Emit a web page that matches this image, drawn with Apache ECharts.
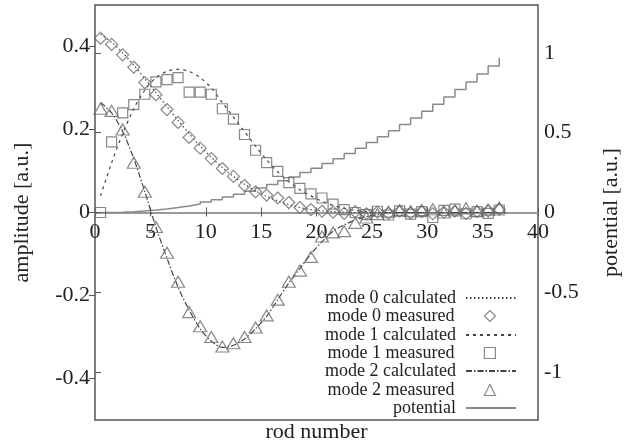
<!DOCTYPE html>
<html>
<head>
    <meta charset="utf-8">
    <title>rod modes</title>
    <script src="https://cdn.jsdelivr.net/npm/echarts@6/dist/echarts.min.js"></script>
    <style>
        html, body { margin: 0; padding: 0; background: #fff; }
    </style>
</head>
<body>
<div id="main" style="width: 629px;height:443px;"></div>
<script type="text/javascript">
    // rod centres (x)
    var rodX = [0.5, 1.5, 2.5, 3.5, 4.5, 5.5, 6.5, 7.5, 8.5, 9.5, 10.5, 11.5, 12.5, 13.5, 14.5, 15.5, 16.5, 17.5, 18.5,
        19.5, 20.5, 21.5, 22.5, 23.5, 24.5, 25.5, 26.5, 27.5, 28.5, 29.5, 30.5, 31.5, 32.5, 33.5, 34.5, 35.5, 36.5];

    var mode0Calc = [0.43, 0.41, 0.385, 0.355, 0.322, 0.289, 0.255, 0.222, 0.19, 0.16, 0.133, 0.108, 0.087, 0.068,
        0.052, 0.039, 0.028, 0.019, 0.012, 0.007, 0.004, 0.002, 0.001, 0, 0, 0, 0, 0, 0, 0, 0, 0, 0, 0, 0, 0, 0];
    var mode0Meas = [0.42, 0.405, 0.38, 0.35, 0.313, 0.284, 0.248, 0.217, 0.181, 0.155, 0.13, 0.106, 0.087, 0.065,
        0.05, 0.042, 0.035, 0.024, 0.012, 0.007, 0.003, 0.001, -0.002, 0.002, -0.003, 0.001, -0.002, 0.003, -0.001,
        0.002, -0.003, 0.001, 0.003, -0.002, 0.002, 0.004, 0.008];
    var mode1Calc = [0.04, 0.12, 0.19, 0.25, 0.295, 0.325, 0.34, 0.345, 0.34, 0.325, 0.3, 0.265, 0.23, 0.195, 0.16,
        0.127, 0.098, 0.074, 0.055, 0.04, 0.027, 0.017, 0.01, 0.005, 0.002, 0, 0, 0, 0, 0, 0, 0, 0, 0, 0, 0, 0];
    var mode1Meas = [0, 0.17, 0.24, 0.26, 0.285, 0.315, 0.32, 0.325, 0.29, 0.29, 0.285, 0.25, 0.225, 0.188, 0.15,
        0.12, 0.099, 0.072, 0.058, 0.045, 0.035, 0.02, 0.007, 0, -0.005, 0.003, -0.006, 0.004, -0.004, 0.002,
        -0.012, 0.005, 0.008, -0.003, 0.002, -0.002, 0.006];
    var mode2Calc = [0.265, 0.24, 0.195, 0.13, 0.05, -0.035, -0.11, -0.18, -0.235, -0.28, -0.31, -0.325, -0.32,
        -0.305, -0.28, -0.25, -0.21, -0.17, -0.135, -0.1, -0.07, -0.045, -0.03, -0.018, -0.01, -0.005, 0, 0, 0, 0,
        0, 0, 0, 0, 0, 0, 0];
    var mode2Meas = [0.25, 0.245, 0.2, 0.12, 0.05, -0.035, -0.097, -0.167, -0.24, -0.274, -0.3, -0.323, -0.315,
        -0.3, -0.277, -0.248, -0.21, -0.167, -0.14, -0.107, -0.058, -0.048, -0.045, -0.025, -0.012, -0.004, 0.002,
        0.005, 0.003, 0.006, 0.008, 0, 0.005, 0.01, 0.004, 0.007, 0.012];
    var potential = [0, 0.002, 0.005, 0.009, 0.015, 0.022, 0.031, 0.041, 0.053, 0.066, 0.08, 0.097, 0.114, 0.133,
        0.154, 0.176, 0.199, 0.223, 0.25, 0.278, 0.307, 0.337, 0.369, 0.403, 0.438, 0.474, 0.512, 0.551, 0.592,
        0.634, 0.678, 0.723, 0.77, 0.818, 0.867, 0.918, 0.97];

    var ampTicks = [-0.4, -0.2, 0, 0.2, 0.4];
    var potTicks = [-1, -0.5, 0, 0.5, 1];
    var rodTicks = [0, 5, 10, 15, 20, 25, 30, 35, 40];

    function pairs(ys) {
        return rodX.map(function (x, i) { return [x, ys[i]]; });
    }

    var font = 'Liberation Serif';
    var ink = '#222';
    var lineCol = '#444';
    var markCol = '#6a6a6a';
    var zeroOffset = -207.5;   // plot is 415px high, zero sits in the middle

    function calcLine(name, data, dash) {
        return {
            name: name, type: 'line', data: pairs(data), symbol: 'none', smooth: 0.3,
            lineStyle: {color: lineCol, width: 1.2, type: dash}, itemStyle: {color: lineCol}, z: 3
        };
    }

    function measured(name, data, symbol, size) {
        return {
            name: name, type: 'scatter', data: pairs(data), symbol: symbol, symbolSize: size,
            itemStyle: {color: 'rgba(255,255,255,0)', borderColor: markCol, borderWidth: 1.2}, z: 4
        };
    }

    // one legend per row, so lines and markers can get their own icon widths
    function legendRow(name, top, isLine) {
        return {
            orient: 'vertical', align: 'right', top: top,
            right: isLine ? 107 : 128,
            itemWidth: isLine ? 50 : 11, itemHeight: isLine ? 10 : 11,
            itemStyle: isLine ? {opacity: 0} :
                {color: 'rgba(255,255,255,0)', borderColor: markCol, borderWidth: 1.2},
            textStyle: {fontFamily: font, fontSize: 18, color: ink, lineHeight: 18,
                padding: [0, isLine ? 5 : 25, 0, 0]},
            selectedMode: false,
            data: [name]
        };
    }

    var myChart = echarts.init(document.getElementById('main'));
    var option = {
        animation: false,
        textStyle: {fontFamily: font, color: ink},
        grid: {
            left: 95, right: 91, top: 5, bottom: 23, outerBoundsMode: 'none',
            show: true, borderColor: '#555', borderWidth: 1.5
        },
        legend: [
            legendRow('mode 0 calculated', 284, true),
            legendRow('mode 0 measured', 302, false),
            legendRow('mode 1 calculated', 321, true),
            legendRow('mode 1 measured', 339, false),
            legendRow('mode 2 calculated', 357, true),
            legendRow('mode 2 measured', 376, false),
            legendRow('potential', 394, true)
        ],
        xAxis: [{
            type: 'value', min: 0, max: 40, position: 'bottom', offset: zeroOffset,
            axisLine: {onZero: false, lineStyle: {color: '#9a9a9a', width: 2}},
            axisTick: {inside: true, length: 5, lineStyle: {color: '#555'}, customValues: rodTicks},
            axisLabel: {fontFamily: font, fontSize: 22, color: ink, margin: 9, customValues: rodTicks},
            splitLine: {show: false}
        }, {
            type: 'value', min: 0, max: 40, position: 'bottom', offset: zeroOffset,
            axisLine: {onZero: false, show: false},
            axisTick: {inside: false, length: 4, lineStyle: {color: '#555'}, customValues: rodTicks},
            axisLabel: {show: false}, splitLine: {show: false}
        }, {
            type: 'value', min: 0, max: 40, position: 'bottom',
            axisLine: {onZero: false, show: false}, axisTick: {show: false}, axisLabel: {show: false},
            splitLine: {show: false},
            name: 'rod number', nameLocation: 'middle', nameGap: 1,
            nameTextStyle: {fontFamily: font, fontSize: 22, color: ink, verticalAlign: 'top'}
        }],
        yAxis: [{
            type: 'value', min: -0.5, max: 0.5, position: 'left',
            axisLine: {show: false},
            axisTick: {length: 6, lineStyle: {color: '#555'}, customValues: ampTicks},
            axisLabel: {fontFamily: font, fontSize: 22, color: ink, margin: 5, customValues: ampTicks},
            splitLine: {show: false},
            name: 'amplitude [a.u.]', nameLocation: 'middle', nameGap: 62, nameRotate: 90,
            nameTextStyle: {fontFamily: font, fontSize: 22, color: ink}
        }, {
            type: 'value', min: -1.3, max: 1.3, position: 'right',
            axisLine: {show: false},
            axisTick: {length: 6, lineStyle: {color: '#555'}, customValues: potTicks},
            axisLabel: {fontFamily: font, fontSize: 22, color: ink, margin: 6, customValues: potTicks},
            splitLine: {show: false},
            name: 'potential [a.u.]', nameLocation: 'middle', nameGap: 62, nameRotate: 90,
            nameTextStyle: {fontFamily: font, fontSize: 22, color: ink}
        }],
        series: [
            calcLine('mode 0 calculated', mode0Calc, [1.5, 2.5]),
            measured('mode 0 measured', mode0Meas, 'diamond', 12),
            calcLine('mode 1 calculated', mode1Calc, [3, 4]),
            measured('mode 1 measured', mode1Meas, 'rect', 10),
            calcLine('mode 2 calculated', mode2Calc, [6, 2, 1.5, 2]),
            measured('mode 2 measured', mode2Meas, 'triangle', [13, 11]),
            {
                name: 'potential', type: 'line', yAxisIndex: 1, step: 'end', symbol: 'none',
                data: pairs(potential),
                lineStyle: {color: '#8a8a8a', width: 1.5}, itemStyle: {color: '#8a8a8a'}, z: 2
            }
        ]
    };
    myChart.setOption(option);
</script>
</body>
</html>
